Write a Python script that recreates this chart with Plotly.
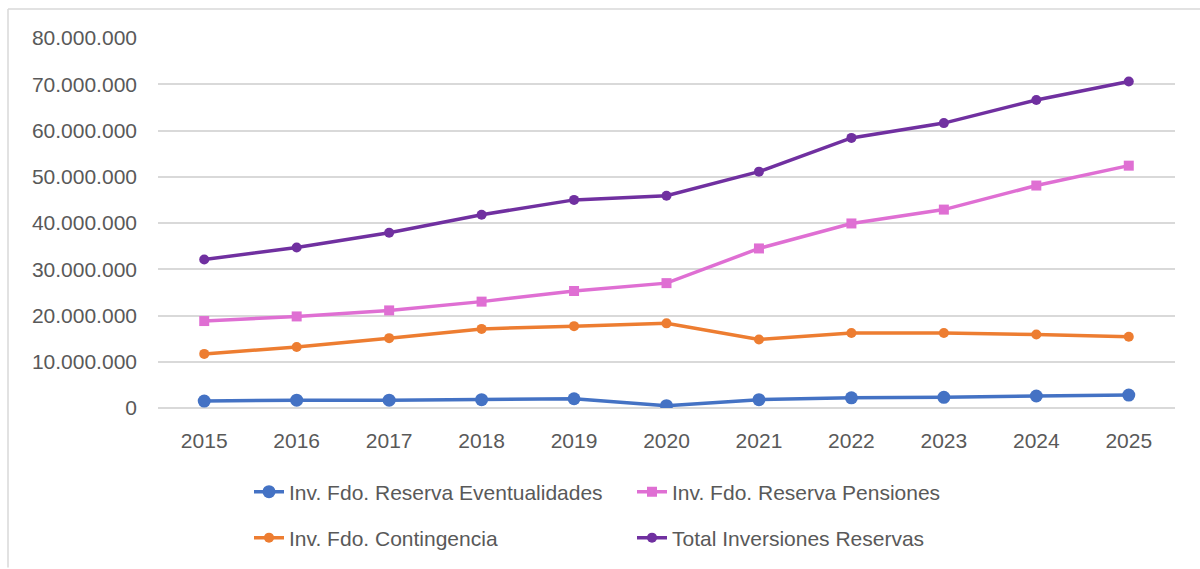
import plotly.graph_objects as go

years = ["2015", "2016", "2017", "2018", "2019", "2020", "2021", "2022", "2023", "2024", "2025"]

eventualidades = [1500000, 1700000, 1700000, 1800000, 2000000, 500000, 1800000, 2200000, 2300000, 2600000, 2800000]
pensiones = [18800000, 19800000, 21100000, 23000000, 25300000, 27000000, 34500000, 39900000, 42900000, 48100000, 52400000]
contingencia = [11700000, 13200000, 15100000, 17100000, 17700000, 18300000, 14800000, 16200000, 16200000, 15900000, 15400000]
total = [32100000, 34700000, 37900000, 41800000, 45000000, 45900000, 51100000, 58400000, 61600000, 66600000, 70600000]

y_ticks = [0, 10000000, 20000000, 30000000, 40000000, 50000000, 60000000, 70000000, 80000000]
y_tick_text = ["0", "10.000.000", "20.000.000", "30.000.000", "40.000.000",
               "50.000.000", "60.000.000", "70.000.000", "80.000.000"]

FONT = "Liberation Sans"
GREY = "#595959"

series = [
    ("Inv. Fdo. Reserva Eventualidades", eventualidades, "#4472C4", "circle", 13, "legend"),
    ("Inv. Fdo. Reserva Pensiones", pensiones, "#DF6FD3", "square", 10, "legend"),
    ("Inv. Fdo. Contingencia", contingencia, "#ED7D31", "circle", 10, "legend2"),
    ("Total Inversiones Reservas", total, "#7030A0", "circle", 10, "legend2"),
]

fig = go.Figure()
for name, vals, color, symbol, size, leg in series:
    fig.add_trace(go.Scatter(
        x=years, y=vals, name=name, mode="lines+markers",
        line=dict(color=color, width=3.5),
        marker=dict(color=color, symbol=symbol, size=size),
        legend=leg,
    ))

W, H = 1200, 569
L, R, T, B = 158, 25, 38, 160
pw, ph = W - L - R, H - T - B

def px_x(x):
    return (x - L) / pw

def px_y(y):
    return (H - B - y) / ph

legend_common = dict(
    orientation="h", xanchor="left", yanchor="middle",
    font=dict(family=FONT, size=21, color=GREY),
    entrywidth=338, entrywidthmode="pixels",
    bgcolor="rgba(0,0,0,0)", itemclick=False, itemdoubleclick=False,
)

fig.update_layout(
    width=W, height=H,
    margin=dict(l=L, r=R, t=T, b=B),
    paper_bgcolor="white", plot_bgcolor="white",
    font=dict(family=FONT, size=21, color=GREY),
    showlegend=True,
    legend=dict(x=px_x(249), y=px_y(492), **legend_common),
    legend2=dict(x=px_x(249), y=px_y(538), **legend_common),
    xaxis=dict(
        type="category", range=[-0.5, len(years) - 0.5],
        showgrid=False, zeroline=False, showline=False,
        ticks="", ticklabelstandoff=18,
        tickfont=dict(family=FONT, size=21, color=GREY),
    ),
    yaxis=dict(
        range=[0, 80000000], tickvals=y_ticks, ticktext=y_tick_text,
        showgrid=True, gridcolor="#D9D9D9", gridwidth=1.5,
        zeroline=True, zerolinecolor="#D9D9D9", zerolinewidth=1.5,
        showline=False, ticks="", ticklabelstandoff=20,
        tickfont=dict(family=FONT, size=21, color=GREY),
    ),
    shapes=[
        dict(type="line", xref="paper", yref="paper",
             x0=px_x(8), x1=px_x(1200), y0=px_y(9), y1=px_y(9),
             line=dict(color="#D9D9D9", width=1.5)),
        dict(type="line", xref="paper", yref="paper",
             x0=px_x(8), x1=px_x(8), y0=px_y(9), y1=px_y(569),
             line=dict(color="#D9D9D9", width=1.5)),
    ],
)

fig.write_html("out.html")
